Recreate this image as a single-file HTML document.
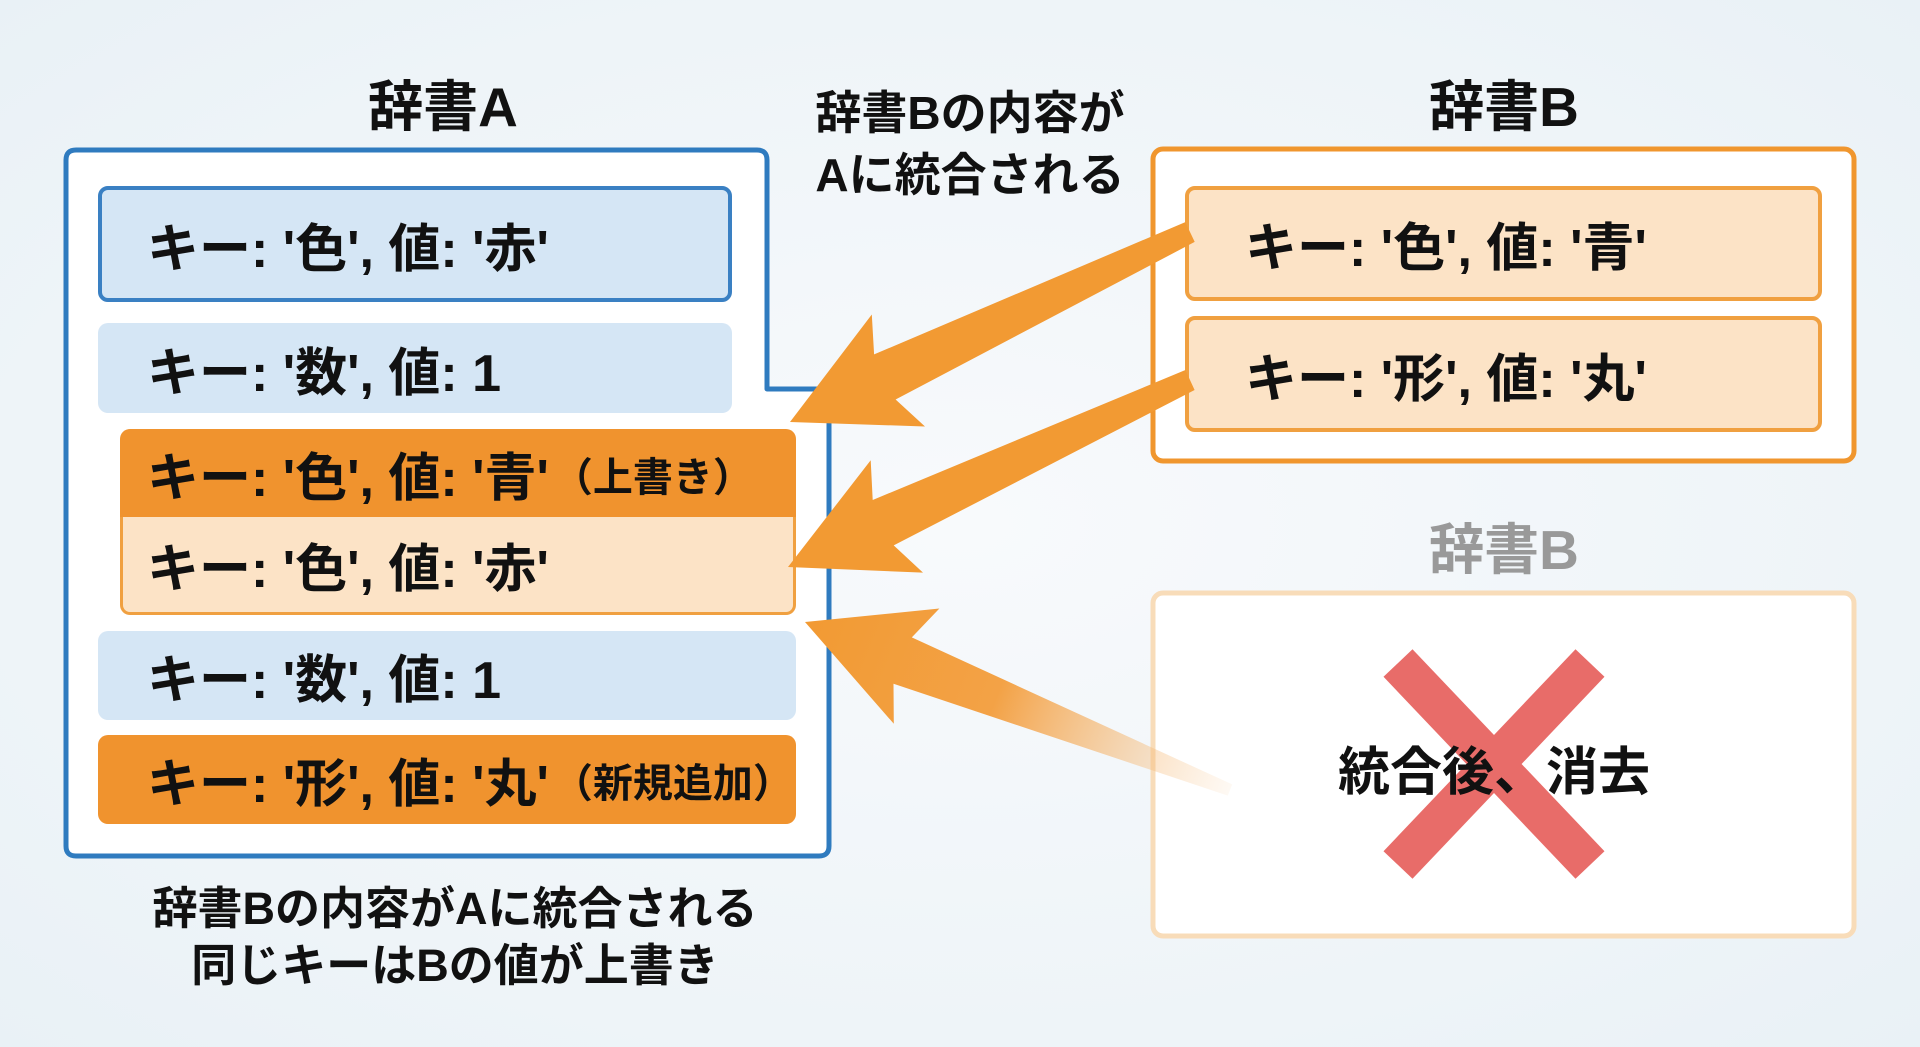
<!DOCTYPE html>
<html><head><meta charset="utf-8">
<style>
body{margin:0;width:1920px;height:1047px;overflow:hidden;background:radial-gradient(ellipse at 50% 50%,#f8fafc 0%,#eef4f8 70%,#e9f1f6 100%);font-family:"Liberation Sans","Noto Sans CJK JP",sans-serif;font-weight:bold;color:#111;position:relative}
.a{position:absolute;box-sizing:border-box}
.t{position:absolute;white-space:nowrap;text-align:center}
.row{position:absolute;box-sizing:border-box;border-radius:10px;font-size:52px;padding-left:48px;display:flex;align-items:center;white-space:nowrap}
.sm{font-size:40px;margin-left:4px}
</style></head><body>
<div class="t" style="left:343px;top:62px;width:200px;font-size:55px">辞書A</div>
<div class="t" style="left:1404px;top:62px;width:200px;font-size:55px">辞書B</div>
<div class="t" style="left:1404px;top:505px;width:200px;font-size:55px;color:#999">辞書B</div>
<div class="t" style="left:800px;top:82px;width:340px;font-size:46px;line-height:62px">辞書Bの内容が<br>Aに統合される</div>

<svg class="a" style="left:0;top:0" width="1920" height="1047">
<path d="M76,150 H757 Q767,150 767,160 V389 H829 V846 Q829,856 819,856 H76 Q66,856 66,846 V160 Q66,150 76,150 Z" fill="#fff" stroke="#2f7bbf" stroke-width="5" stroke-linejoin="round"/>
<rect x="1153" y="149" width="701" height="312" rx="10" fill="#fff" stroke="#f0962e" stroke-width="5"/>
<rect x="1153" y="593" width="701" height="343" rx="10" fill="#fff" stroke="#f8dcb9" stroke-width="5"/>
</svg>

<div class="row" style="left:98px;top:186px;width:634px;height:116px;background:#d5e6f5;border:4px solid #3a80c3;padding-left:45px">キー: '色', 値: '赤'</div>
<div class="row" style="left:98px;top:323px;width:634px;height:90px;background:#d5e6f5;padding-left:49px">キー: '数', 値: 1</div>
<div class="row" style="left:120px;top:429px;width:676px;height:89px;background:#f0932e;border-radius:10px 10px 0 0;padding-left:27px">キー: '色', 値: '青'<span class="sm">（上書き）</span></div>
<div class="row" style="left:120px;top:517px;width:676px;height:98px;background:#fce3c6;border:3px solid #f0a040;border-top:none;border-radius:0 0 10px 10px;padding-left:24px">キー: '色', 値: '赤'</div>
<div class="row" style="left:98px;top:631px;width:698px;height:89px;background:#d5e6f5;padding-left:49px">キー: '数', 値: 1</div>
<div class="row" style="left:98px;top:735px;width:698px;height:89px;background:#f0932e;padding-left:49px">キー: '形', 値: '丸'<span class="sm">（新規追加）</span></div>

<div class="t" style="left:100px;top:880px;width:710px;font-size:45px;line-height:57px">辞書Bの内容がAに統合される<br>同じキーはBの値が上書き</div>

<div class="row" style="left:1185px;top:186px;width:637px;height:115px;background:#fce3c6;border:4px solid #f0a040;padding-left:56px">キー: '色', 値: '青'</div>
<div class="row" style="left:1185px;top:316px;width:637px;height:116px;background:#fce3c6;border:4px solid #f0a040;padding-left:56px">キー: '形', 値: '丸'</div>

<svg class="a" style="left:0;top:0" width="1920" height="1047">
<defs><linearGradient id="fd" x1="805" y1="622" x2="1230" y2="790" gradientUnits="userSpaceOnUse">
<stop offset="0" stop-color="#f29a33"/><stop offset="0.45" stop-color="#f3a246"/><stop offset="1" stop-color="#f7c690" stop-opacity="0.1"/></linearGradient></defs>
<g id="arrows"></g>
<g opacity="0.85" stroke="#e5534f" stroke-width="40">
<line x1="1398" y1="663" x2="1590" y2="865"/><line x1="1590" y1="663" x2="1398" y2="865"/>
</g>
</svg>
<div class="t" style="left:1294px;top:730px;width:400px;font-size:52px">統合後、消去</div>

<script>
function arrow(tail,tip,w0,w1,hw,hl,fill){
 var dx=tip[0]-tail[0],dy=tip[1]-tail[1],L=Math.hypot(dx,dy),ux=dx/L,uy=dy/L,nx=-uy,ny=ux;
 var bx=tip[0]-ux*hl,by=tip[1]-uy*hl;
 var p=[[tail[0]+nx*w0/2,tail[1]+ny*w0/2],[bx+nx*w1/2,by+ny*w1/2],[bx+nx*hw-ux*15,by+ny*hw-uy*15],tip,[bx-nx*hw-ux*15,by-ny*hw-uy*15],[bx-nx*w1/2,by-ny*w1/2],[tail[0]-nx*w0/2,tail[1]-ny*w0/2]];
 return '<polygon fill="'+fill+'" points="'+p.map(function(q){return q[0].toFixed(1)+','+q[1].toFixed(1)}).join(' ')+'"/>';
}
document.getElementById('arrows').innerHTML=
 arrow([1190,232],[790,422],22,50,62,105,'#f29a33')+
 arrow([1190,380],[788,567],22,50,62,105,'#f29a33')+
 arrow([1230,790],[805,622],12,50,62,105,'url(#fd)');
</script>
</body></html>
